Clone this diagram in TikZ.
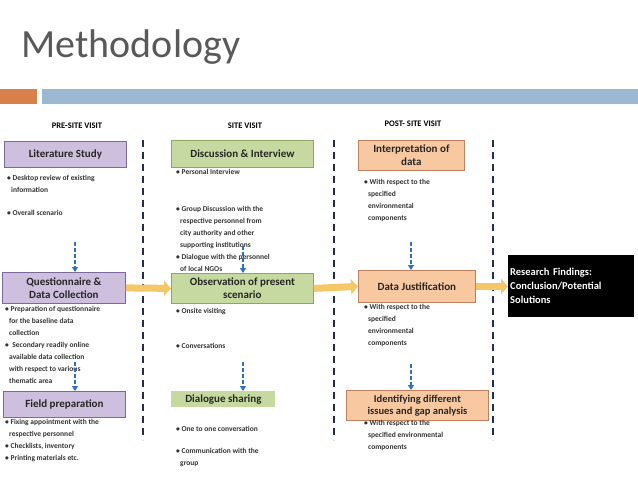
\documentclass[tikz,border=0pt]{standalone}
\usepackage{fontspec}
\setmainfont{Carlito}
\usetikzlibrary{arrows.meta}
\definecolor{purplefill}{HTML}{CDBFDD}
\definecolor{purpleline}{HTML}{7A6A9A}
\definecolor{greenfill}{HTML}{C5D9A0}
\definecolor{greenline}{HTML}{8CA860}
\definecolor{orangefill}{HTML}{F8C9A0}
\definecolor{orangeline}{HTML}{C08060}
\definecolor{arrowfill}{HTML}{F6C768}
\definecolor{navy}{HTML}{1F2D5A}
\definecolor{titlegray}{HTML}{595959}
\definecolor{barorange}{HTML}{D9804A}
\definecolor{barblue}{HTML}{9DB8D3}
\definecolor{flowblue}{HTML}{2F6FC8}
\tikzset{
  phase/.style={font=\fontsize{8.5}{10}\selectfont\bfseries},
  stage/.style={draw, thick, align=center, anchor=north west, inner sep=1pt,
     font=\fontsize{11}{13}\selectfont\bfseries, text=black!85},
  prebox/.style={stage, fill=purplefill, draw=purpleline},
  sitebox/.style={stage, fill=greenfill, draw=greenline},
  postbox/.style={stage, fill=orangefill, draw=orangeline},
  notes/.style={anchor=north west, align=left, inner sep=0pt,
     font=\fontsize{7.5}{12}\selectfont\bfseries, text=black!80},
  divider/.style={navy, line width=2pt, dash pattern=on 7pt off 5pt},
  fat/.style={arrowfill, line width=7pt, -{Triangle[length=7pt,width=15pt]}},
  flow/.style={flowblue, line width=1.5pt, dash pattern=on 4pt off 2pt, -{Triangle[length=5pt,width=6pt]}}
}
\newcommand{\bl}{\textbullet\ }
\newcommand{\ind}{\hspace*{4pt}}
\begin{document}
\begin{tikzpicture}[x=1pt, y=-1pt]
  \useasboundingbox (0,0) rectangle (638,479);
  % heading
  \node[anchor=west, font=\fontsize{40}{44}\selectfont, text=titlegray] (title) at (18,47) {Methodology};
  \fill[barorange] (0,89) rectangle (37,104);
  \fill[barblue] (42,89) rectangle (638,104);
  % phases
  \node[phase] (pre)  at (77,126)  {PRE-SITE VISIT};
  \node[phase] (site) at (245,126) {SITE VISIT};
  \node[phase] (post) at (413,124) {POST- SITE VISIT};
  \foreach \x in {143,334,493}
    \draw[divider] (\x,140) -- (\x,440);
  % pre-site column
  \node[prebox, minimum width=122pt, minimum height=26pt] (lit) at (4,141) {Literature Study};
  \node[notes] (litn1) at (7,175) {\bl Desktop review of existing\\\ind information};
  \node[notes] (litn2) at (7,210) {\bl Overall scenario};
  \node[prebox, minimum width=123pt, minimum height=31pt] (quest) at (2,272) {Questionnaire \&\\Data Collection};
  \node[notes] (qn1) at (5,306) {\bl Preparation of questionnaire\\\ind for the baseline data\\\ind collection\\\bl\ Secondary readily online\\\ind available data collection\\\ind with respect to various\\\ind thematic area};
  \node[prebox, minimum width=122pt, minimum height=26pt] (field) at (3,391) {Field preparation};
  \node[notes] (fn1) at (5,419) {\bl Fixing appointment with the\\\ind respective personnel\\\bl Checklists, inventory\\\bl Printing materials etc.};
  % site column
  \node[sitebox, minimum width=142pt, minimum height=27pt] (disc) at (171,140) {Discussion \& Interview};
  \node[notes] (dn1) at (176,169) {\bl Personal Interview};
  \node[notes] (dn2) at (176,206) {\bl Group Discussion with the\\\ind respective personnel from\\\ind city authority and other\\\ind supporting institutions\\\bl Dialogue with the personnel\\\ind of local NGOs};
  \node[sitebox, minimum width=142pt, minimum height=30pt] (obs) at (171,273) {Observation of present\\scenario};
  \node[notes] (on1) at (176,308) {\bl Onsite visiting};
  \node[notes] (on2) at (176,343) {\bl Conversations};
  \node[sitebox, draw=none, minimum width=104pt, minimum height=16pt] (dial) at (171,391) {Dialogue sharing};
  \node[notes] (sn1) at (176,426) {\bl One to one conversation};
  \node[notes] (sn2) at (176,448) {\bl Communication with the\\\ind group};
  % post-site column
  \node[postbox, minimum width=106pt, minimum height=30pt] (interp) at (358,140) {Interpretation of\\data};
  \node[notes] (in1) at (364,179) {\bl With respect to the\\\ind specified\\\ind environmental\\\ind components};
  \node[postbox, minimum width=117pt, minimum height=32pt] (just) at (358,270) {Data Justification};
  \node[notes] (jn1) at (364,304) {\bl With respect to the\\\ind specified\\\ind environmental\\\ind components};
  \node[postbox, minimum width=142pt, minimum height=30pt, font=\fontsize{10.5}{12}\selectfont\bfseries] (ident) at (346,390) {Identifying different\\issues and gap analysis};
  \node[notes] (idn1) at (364,420) {\bl With respect to the\\\ind specified environmental\\\ind components};
  % findings
  \node[fill=black, text=white, anchor=north west, align=left, minimum width=126pt, minimum height=62pt,
        text width=122pt, inner sep=2pt, font=\fontsize{10.5}{14}\selectfont\bfseries] (res) at (508,255)
        {Research Findings:\\Conclusion/Potential\\Solutions\\[12pt]};
  % main flow
  \draw[fat] (quest.east) -- (obs.west);
  \draw[fat] (obs.east) -- (just.west);
  \draw[fat] (just.east) -- (just.east -| res.west);
  % column flow
  \coordinate (a1) at (75,242);
  \coordinate (a2) at (75,362);
  \coordinate (b1) at (243,246);
  \coordinate (b2) at (243,362);
  \coordinate (c1) at (411,242);
  \coordinate (c2) at (411,364);
  \draw[flow] (a1) -- (a1 |- quest.north);
  \draw[flow] (a2) -- (a2 |- field.north);
  \draw[flow] (b1) -- (b1 |- obs.north);
  \draw[flow] (b2) -- (b2 |- dial.north);
  \draw[flow] (c1) -- (c1 |- just.north);
  \draw[flow] (c2) -- (c2 |- ident.north);
\end{tikzpicture}
\end{document}
